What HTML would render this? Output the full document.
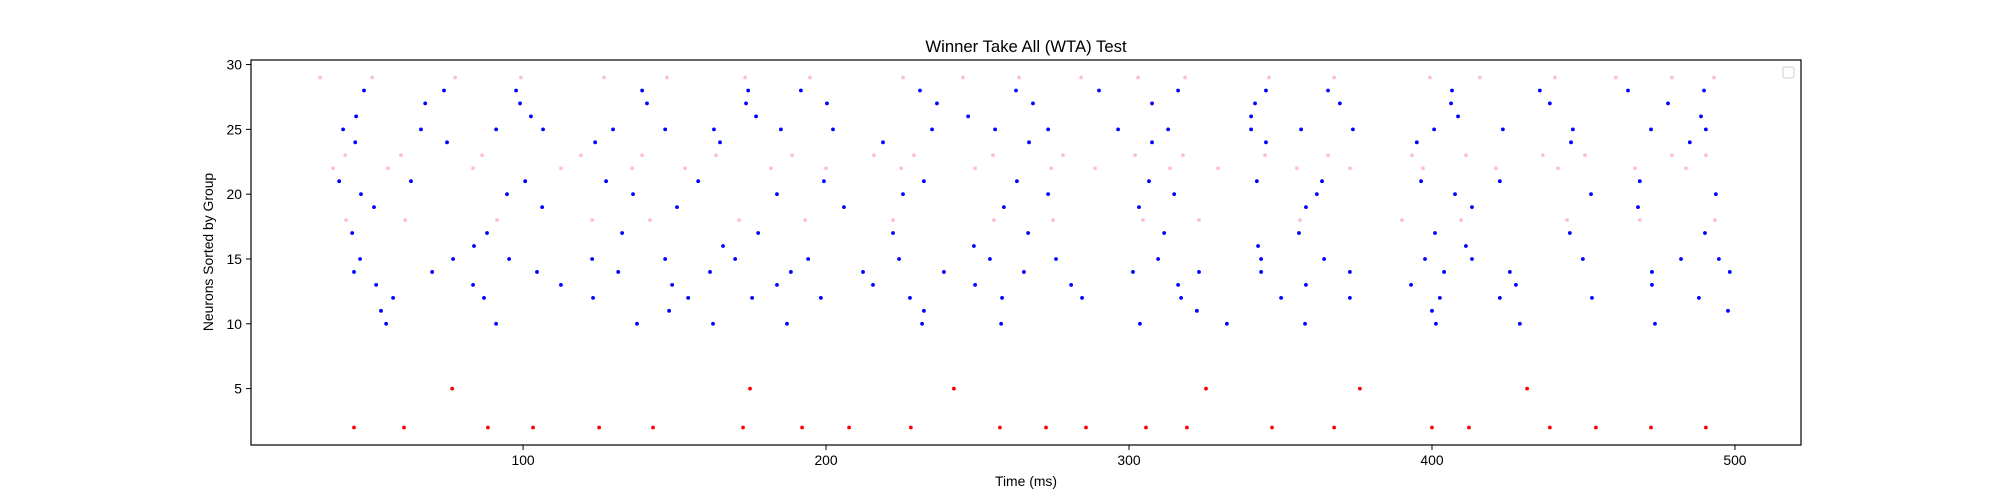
<!DOCTYPE html>
<html><head><meta charset="utf-8"><style>
html,body{margin:0;padding:0;background:#fff;}
svg{display:block;font-family:"Liberation Sans","DejaVu Sans",sans-serif;}
</style></head><body>
<svg id="chart" width="2000" height="500" viewBox="0 0 2000 500" xmlns="http://www.w3.org/2000/svg">
<rect x="0" y="0" width="2000" height="500" fill="#fff"/>
<text x="1026" y="52" font-size="16.7" text-anchor="middle" fill="#000">Winner Take All (WTA) Test</text>
<text x="1026" y="486" font-size="13.9" text-anchor="middle" fill="#000">Time (ms)</text>
<text x="0" y="0" font-size="13.9" text-anchor="middle" fill="#000" transform="translate(213,252) rotate(-90)">Neurons Sorted by Group</text>
<g id="ticks"></g>
<g id="marks"></g>
<rect x="251" y="60" width="1550" height="385" fill="none" stroke="#000" stroke-width="1.2"/>
<rect x="1783" y="67" width="11" height="11" rx="2" fill="#fff" stroke="#ccc" stroke-width="1"/>
</svg>
<script>
const xTicks = [100, 200, 300, 400, 500];
const yTicks = [5, 10, 15, 20, 25, 30];
const blueRows = [28, 27, 26, 25, 24, 21, 20, 19, 17, 16, 15, 14, 13, 12, 11, 10];
const blueTimes = [
[47.5,73.9,97.7,139.3,174.3,191.7,231,262.7,290.1,316.2,345.2,365.7,406.6,435.6,464.7,489.8],
[67.7,99,140.9,173.6,200.3,236.6,268.3,307.6,341.6,369.6,406.3,438.9,477.9],
[44.9,102.6,176.9,246.9,340.3,408.6,488.8],
[40.6,66.3,91.1,106.6,129.7,146.9,163,185.1,202.3,235,255.8,273.3,296.4,312.9,340.3,356.8,373.9,400.7,423.4,446.5,472.3,490.4],
[44.6,74.9,123.8,165,218.8,267,307.6,345.2,395,445.9,485.1],
[39.3,63,100.7,127.4,157.8,199.3,232.3,263,306.6,342.2,363.7,396.4,422.4,468.6],
[46.5,94.7,136.3,183.8,225.4,273.3,314.9,362,407.6,452.5,493.7],
[50.8,106.3,150.8,205.9,258.7,303.3,358.4,413.2,468],
[43.6,88.1,132.7,177.6,222.1,266.7,311.6,356.1,401,445.5,490.1],
[83.8,166,248.8,342.6,411.2],
[46.2,76.9,95.4,122.8,146.9,170,194.1,224.1,254.1,275.9,309.6,343.6,364.4,397.7,413.2,449.8,482.2,494.7],
[44.2,70,104.6,131.4,161.7,188.4,212.2,238.9,265.3,301.3,323.1,343.6,372.9,404,425.7,472.6,498.3],
[51.5,83.5,112.5,149.2,183.8,215.5,249.2,280.9,316.2,358.4,393.1,427.7,472.6],
[57.1,87.1,123.1,154.5,175.6,198.3,227.7,258.1,284.5,317.2,350.2,372.9,402.6,422.4,452.8,488.1],
[53.1,148.2,232.3,322.4,400,497.7],
[54.8,91.1,137.6,162.7,187.1,231.7,257.8,303.6,332.3,358.1,401.3,429,473.6]
];
const pinkRows = [29, 23, 22, 18];
const pinkTimes = [
[33,50.2,77.6,99.3,126.7,147.5,173.3,194.7,225.4,245.2,263.7,284.2,303,318.5,346.2,367.7,399.3,415.8,440.6,460.7,479.2,493.1],
[41.3,59.7,86.5,119.1,139.3,163.7,188.8,215.8,229,255.1,278.2,302,317.8,344.9,365.7,393.4,411.2,436.6,450.5,479.2,490.4],
[37.3,55.4,83.5,112.5,136,153.5,181.8,200,224.8,249.2,274.3,288.8,313.5,329.4,355.4,372.9,397,421.1,441.6,467,483.8],
[41.6,61.1,91.4,122.8,141.9,171.3,193.1,222.1,255.4,274.9,304.6,323.1,356.4,390.1,409.6,444.6,468.6,493.4]
];
const redRows = [2, 5];
const redTimes = [
[44.2,60.7,88.4,103.3,125.1,142.9,172.6,192.1,207.6,228,257.4,272.6,285.8,305.6,319.1,347.2,367.7,400,412.2,438.9,454.1,472.3,490.4],
[76.6,174.9,242.2,325.4,376.2,431.4]
];

const NS = 'http://www.w3.org/2000/svg';
const xMin = 10.2, xMax = 521.8, yMin = 0.65, yMax = 30.35;
const L = 251, R = 1801, T = 60, B = 445;
function xs(v){ return L + (v - xMin) / (xMax - xMin) * (R - L); }
function ys(v){ return B - (v - yMin) / (yMax - yMin) * (B - T); }

const tg = document.getElementById('ticks');
xTicks.forEach(v => {
  const l = document.createElementNS(NS, 'line');
  l.setAttribute('x1', xs(v)); l.setAttribute('x2', xs(v));
  l.setAttribute('y1', B); l.setAttribute('y2', B + 5);
  l.setAttribute('stroke', '#000'); l.setAttribute('stroke-width', '1');
  
  
  tg.appendChild(l);
  const t = document.createElementNS(NS, 'text');
  t.setAttribute('x', xs(v)); t.setAttribute('y', B + 20);
  t.setAttribute('font-size', '13.9'); t.setAttribute('text-anchor', 'middle');
  t.textContent = v;
  
  
  tg.appendChild(t);
});
yTicks.forEach(v => {
  const l = document.createElementNS(NS, 'line');
  l.setAttribute('x1', L - 5); l.setAttribute('x2', L);
  l.setAttribute('y1', ys(v)); l.setAttribute('y2', ys(v));
  l.setAttribute('stroke', '#000'); l.setAttribute('stroke-width', '1');
  
  
  tg.appendChild(l);
  const t = document.createElementNS(NS, 'text');
  t.setAttribute('x', L - 9); t.setAttribute('y', ys(v) + 5);
  t.setAttribute('font-size', '13.9'); t.setAttribute('text-anchor', 'end');
  t.textContent = v;
  
  
  tg.appendChild(t);
});

const mg = document.getElementById('marks');
function drawGroup(rows, times, color, name){
  rows.forEach((row, i) => {
    times[i].forEach(tm => {
      const c = document.createElementNS(NS, 'circle');
      c.setAttribute('cx', xs(tm)); c.setAttribute('cy', ys(row));
      c.setAttribute('r', '1.9'); c.setAttribute('fill', color);
      
      
      mg.appendChild(c);
    });
  });
}
drawGroup(pinkRows, pinkTimes, '#ffc0cb', 'spike-pink');
drawGroup(blueRows, blueTimes, '#0000ff', 'spike-blue');
drawGroup(redRows, redTimes, '#ff0000', 'spike-red');
</script>
</body></html>
